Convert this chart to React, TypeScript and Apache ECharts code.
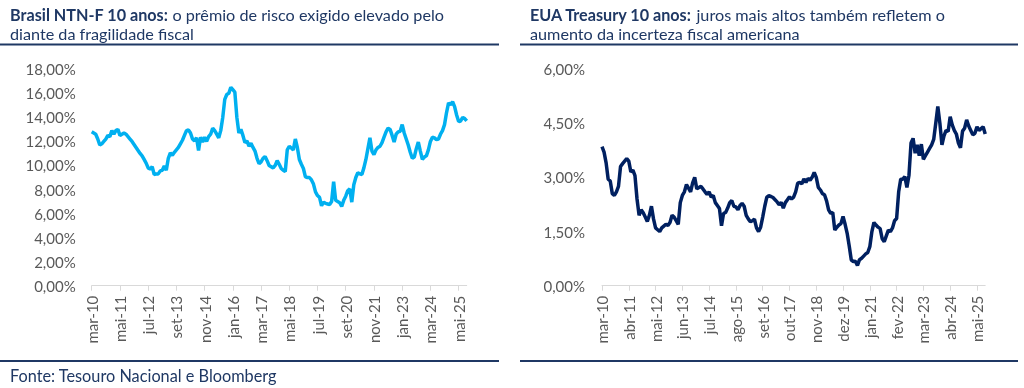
import { useEffect, useRef } from "react";
import * as echarts from "echarts";

const MONTHS = ["jan", "fev", "mar", "abr", "mai", "jun", "jul", "ago", "set", "out", "nov", "dez"];
const START_YEAR = 2010;
const START_MONTH = 2; // mar
const N_POINTS = 187;
const categories: string[] = Array.from({ length: N_POINTS }, (_, i) => {
  const k = START_MONTH + i;
  return MONTHS[k % 12] + "-" + String((START_YEAR + Math.floor(k / 12)) % 100).padStart(2, "0");
});

const brasilTitleBold = "Brasil NTN-F 10 anos:";
const brasilTitleRest = " o prêmio de risco exigido elevado pelo";
const brasilTitleLine2 = "diante da fragilidade fiscal";
const euaTitleBold = "EUA Treasury 10 anos:";
const euaTitleRest = " juros mais altos também refletem o";
const euaTitleLine2 = "aumento da incerteza fiscal americana";
const sourceText = "Fonte: Tesouro Nacional e Bloomberg";

const brasilNtnf = [
  12.8, 12.7, 12.6, 12.2, 11.7, 11.8, 12.0, 12.2, 12.5, 12.4,
  12.9, 12.6, 12.9, 13.0, 12.5, 12.6, 12.7, 12.6, 12.4, 12.2,
  12.0, 11.75, 11.5, 11.25, 11.0, 10.8, 10.5, 10.2, 9.8, 9.7,
  9.9, 9.25, 9.3, 9.3, 9.55, 9.6, 9.95, 9.6, 10.6, 11.05,
  10.85, 11.1, 11.3, 11.5, 11.8, 12.1, 12.5, 12.9, 12.95, 12.7,
  12.2, 12.05, 12.3, 11.25, 12.35, 11.95, 12.35, 12.0, 12.4, 12.6,
  13.1, 12.9, 12.6, 12.3, 12.9, 14.0, 15.5, 15.9, 16.0, 16.5,
  16.3, 16.1, 14.0, 12.7, 13.0, 12.5, 11.9, 12.05, 11.6, 11.85,
  11.5, 11.2, 10.6, 10.15, 10.3, 10.6, 10.75, 10.4, 10.0, 9.9,
  9.8, 10.0, 10.4, 10.1, 9.75, 9.6, 9.5, 11.3, 11.6, 11.45,
  11.3, 12.2, 11.5, 10.5, 10.1, 9.75, 9.05, 9.0, 9.0, 8.8,
  8.45, 7.8, 7.5, 7.35, 6.65, 6.95, 6.85, 6.8, 6.75, 7.0,
  8.65, 7.1, 7.0, 6.9, 6.6, 7.1, 7.45, 7.9, 8.05, 6.95,
  8.4, 9.0, 9.4, 9.3, 9.25, 9.8, 10.5, 11.4, 12.3, 11.2,
  10.9, 11.3, 11.5, 11.6, 11.9, 12.35, 12.8, 13.1, 13.0, 12.5,
  11.95, 12.6, 12.8, 12.85, 13.4, 12.7, 12.2, 11.7, 11.1, 10.6,
  10.7, 11.4, 11.95, 11.2, 10.5, 10.7, 10.8, 11.3, 12.0, 12.35,
  12.3, 12.15, 12.2, 12.6, 12.9, 13.4, 14.4, 15.2, 15.05, 15.3,
  14.9, 14.2, 13.65, 13.7, 14.0, 13.9, 13.7,
];

const euaTreasury = [
  3.85, 3.7, 3.4, 2.95, 2.9, 2.55, 2.5, 2.6, 2.75, 3.3,
  3.38, 3.45, 3.52, 3.45, 3.15, 3.2, 3.05, 2.4, 1.95, 2.1,
  2.02, 1.9, 1.78, 1.95, 2.2, 1.85, 1.6, 1.55, 1.5, 1.6,
  1.65, 1.7, 1.67, 1.75, 1.95, 1.9, 1.8, 1.7, 2.3, 2.5,
  2.6, 2.8, 2.7, 2.6, 2.85, 3.0, 2.68, 2.72, 2.75, 2.68,
  2.6, 2.53, 2.6, 2.45, 2.5, 2.3, 2.22, 2.14, 1.66, 2.0,
  2.03, 2.15, 2.3, 2.36, 2.2, 2.18, 2.1, 2.22, 2.28, 2.2,
  1.95, 1.85, 1.77, 1.8, 1.84, 1.6, 1.5, 1.62, 1.9, 2.2,
  2.45, 2.49, 2.47, 2.44, 2.38, 2.32, 2.24, 2.31, 2.15, 2.3,
  2.38, 2.46, 2.4, 2.45, 2.6, 2.84, 2.86, 2.82, 2.96, 2.86,
  2.97, 2.92, 3.0, 3.14, 3.0, 2.72, 2.65, 2.55, 2.52, 2.35,
  2.1, 2.0, 2.03, 1.54, 1.62, 1.68, 1.72, 1.92, 1.7, 1.45,
  1.1, 0.71, 0.67, 0.68, 0.56, 0.72, 0.76, 0.82, 0.88, 0.92,
  1.08, 1.5, 1.75, 1.68, 1.62, 1.58, 1.3, 1.22, 1.38, 1.54,
  1.5, 1.6, 1.8, 1.86, 2.6, 2.95, 2.95, 3.02, 2.72, 3.06,
  3.95, 4.08, 3.67, 3.9, 3.6, 3.92, 3.5, 3.6, 3.7, 3.8,
  3.9, 4.05, 4.5, 4.96, 4.5, 3.9, 4.15, 4.3, 4.27, 4.68,
  4.45, 4.3, 4.2, 3.95, 3.82, 4.28, 4.36, 4.59, 4.42, 4.3,
  4.18, 4.22, 4.4, 4.3, 4.35, 4.4, 4.2,
];

const NAVY = "#1F3864";
const GRAY = "#595959";
const AXIS_GRAY = "#d9d9d9";
const FONT = "Lato";

const pct = (v: number) => v.toFixed(2).replace(".", ",") + "%";

export default function App() {
  const ref = useRef<HTMLDivElement>(null);
  useEffect(() => {
    if (!ref.current) return;
    const chart = echarts.init(ref.current, undefined, { renderer: "svg" });
    const xAxisBase = (gridIndex: number, interval: number) => ({
      gridIndex,
      type: "category" as const,
      data: categories,
      boundaryGap: false,
      axisLine: { lineStyle: { color: AXIS_GRAY, width: 1 } },
      axisTick: { interval, length: 5, lineStyle: { color: AXIS_GRAY } },
      axisLabel: { interval, rotate: 90, color: GRAY, fontSize: 15, fontFamily: FONT, margin: 10 },
      splitLine: { show: false },
    });
    const yAxisBase = (gridIndex: number, max: number, interval: number, margin: number) => ({
      gridIndex,
      type: "value" as const,
      min: 0,
      max,
      interval,
      axisLine: { show: false },
      axisTick: { show: false },
      splitLine: { show: false },
      axisLabel: { formatter: pct, color: GRAY, fontSize: 15, fontFamily: FONT, margin },
    });
    const titleText = (x: number, y: number, bold: string, rest: string) => ({
      type: "text",
      x,
      y,
      style: {
        text: "{b|" + bold + "}{n|" + rest + "}",
        verticalAlign: "middle",
        rich: {
          b: { fontWeight: "bold", fontSize: 16.2, fontFamily: FONT, fill: NAVY },
          n: { fontSize: 16.2, fontFamily: FONT, fill: NAVY },
        },
      },
    });
    const plainText = (x: number, y: number, text: string, size: number) => ({
      type: "text",
      x,
      y,
      style: { text, fontSize: size, fontFamily: FONT, fill: NAVY, verticalAlign: "middle" },
    });
    const hline = (x1: number, x2: number, y: number) => ({
      type: "line",
      shape: { x1, y1: y, x2, y2: y },
      style: { stroke: NAVY, lineWidth: 2 },
    });
    chart.setOption({
      animation: false,
      grid: [
        { left: 91.7, top: 69.3, width: 375, height: 216.4 },
        { left: 602, top: 69, width: 383.2, height: 216.7 },
      ],
      xAxis: [xAxisBase(0, 13), xAxisBase(1, 12)],
      yAxis: [yAxisBase(0, 18, 2, 16), yAxisBase(1, 6, 1.5, 17)],
      series: [
        {
          type: "line",
          xAxisIndex: 0,
          yAxisIndex: 0,
          data: brasilNtnf,
          showSymbol: false,
          lineStyle: { color: "#00B0F0", width: 3.5 },
          itemStyle: { color: "#00B0F0" },
        },
        {
          type: "line",
          xAxisIndex: 1,
          yAxisIndex: 1,
          data: euaTreasury,
          showSymbol: false,
          lineStyle: { color: "#002060", width: 3.5 },
          itemStyle: { color: "#002060" },
        },
      ],
      graphic: [
        titleText(10, 14, brasilTitleBold, brasilTitleRest),
        plainText(10, 33, brasilTitleLine2, 16.2),
        titleText(530, 14, euaTitleBold, euaTitleRest),
        plainText(530, 33, euaTitleLine2, 16.2),
        hline(0, 499, 44.5),
        hline(520, 1018, 44.5),
        hline(0, 499, 361),
        hline(520, 1018, 361),
        plainText(10, 375, sourceText, 16.3),
      ],
    });
    return () => chart.dispose();
  }, []);
  return <div ref={ref} style={{ position: "fixed", left: 0, top: 0, width: 1024, height: 388 }} />;
}
